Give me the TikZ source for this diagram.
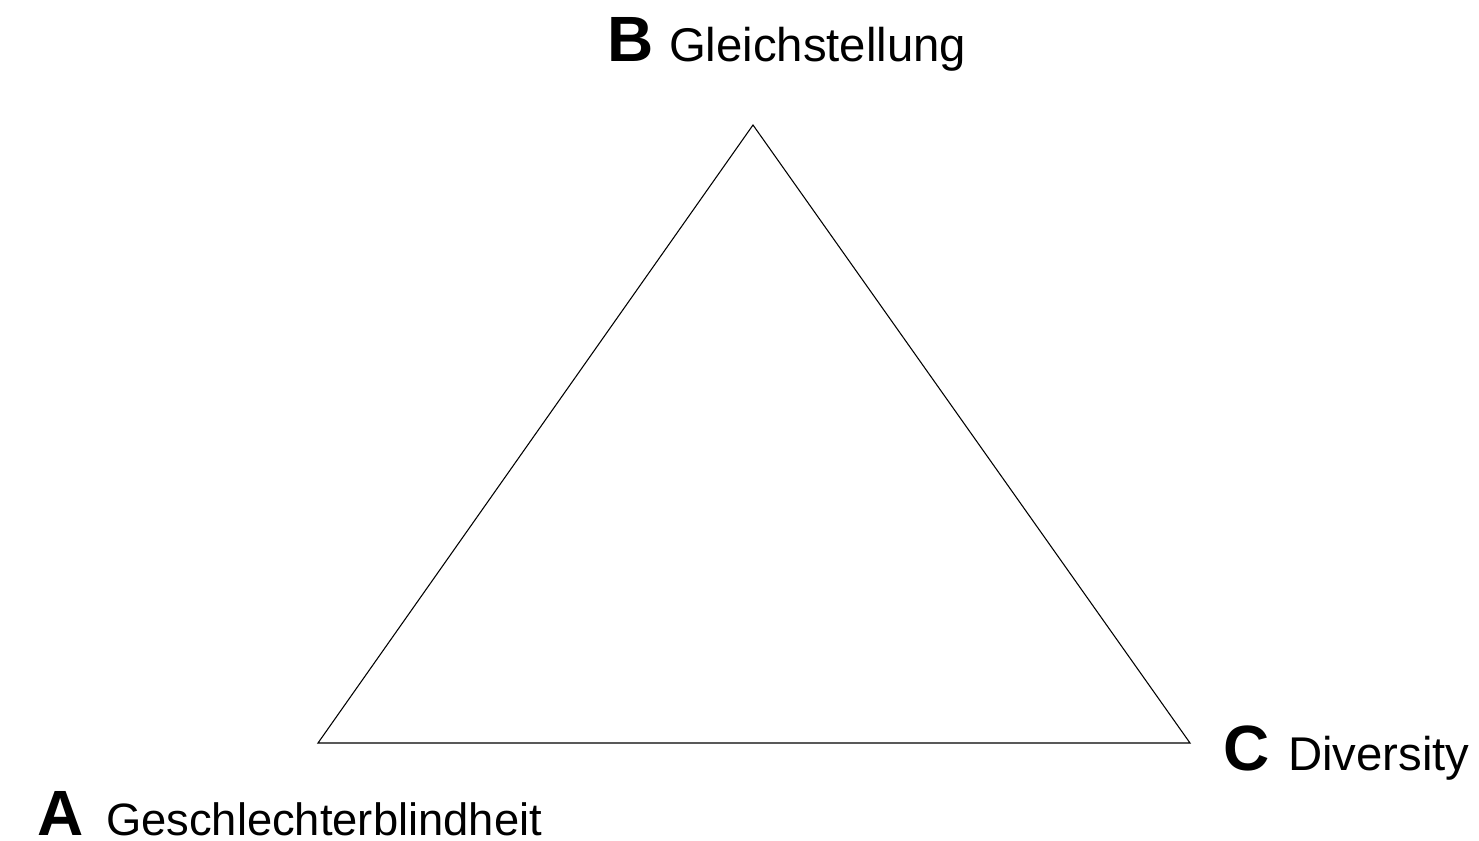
\documentclass[tikz,border=0pt]{standalone}
\usepackage{fontspec}
\setmainfont{Liberation Sans}
\begin{document}
\begin{tikzpicture}[x=0.75pt,y=-0.75pt,
  edge/.style={draw=black,line width=0.8pt,line join=miter},
  corner/.style={anchor=base west,inner sep=0pt,outer sep=0pt},
  letter/.style={font=\bfseries\fontsize{48}{54}\selectfont},
  word/.style={font=\fontsize{35.5}{42}\selectfont}]
  % page area
  \path[use as bounding box] (0,0) rectangle (1479,841);
  % triangle corners
  \coordinate (pa) at (318,743);
  \coordinate (pb) at (753,125);
  \coordinate (pc) at (1190,743);
  \draw[edge] (pa) -- (pb) -- (pc) -- cycle;
  % corner labels
  \node[corner,letter] (la) at (37,835) {A};
  \node[corner,word,font=\fontsize{34}{40}\selectfont] (ta) at (106,835) {Geschlechterblindheit};
  \node[corner,letter] (lb) at (607,62) {B};
  \node[corner,word] (tb) at (669,62) {Gleichstellung};
  \node[corner,letter] (lc) at (1223,770) {C};
  \node[corner,word] (tc) at (1288,770) {Diversity};
\end{tikzpicture}
\end{document}
